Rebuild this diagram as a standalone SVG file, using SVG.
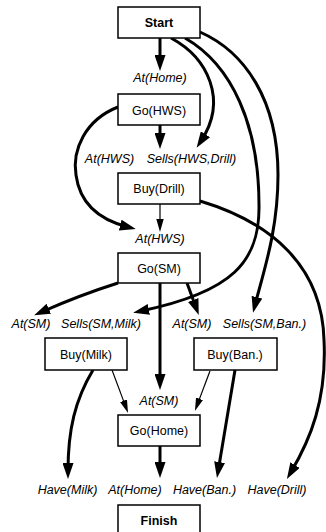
<svg xmlns="http://www.w3.org/2000/svg" width="326" height="532" viewBox="0 0 326 532">
<defs>
<style>
.box{fill:#fff;stroke:#000;stroke-width:1.5}
.t{font-family:"Liberation Sans",Arial,sans-serif;font-size:12.5px;text-anchor:middle;fill:#000}
.b{font-weight:bold}
.i{font-style:italic}
.thick{fill:none;stroke:#000;stroke-width:3;marker-end:url(#ah)}
.thin{fill:none;stroke:#000;stroke-width:1.2;marker-end:url(#ahs)}
</style>
<marker id="ah" markerUnits="userSpaceOnUse" markerWidth="16" markerHeight="11" refX="8" refY="5.5" orient="auto">
<path d="M0,0 L16,5.5 L0,11 Z" fill="#000"/>
</marker>
<marker id="ahs" markerUnits="userSpaceOnUse" markerWidth="13" markerHeight="8" refX="6" refY="4" orient="auto">
<path d="M0,0.3 L13,4 L0,7.7 Z" fill="#000"/>
</marker>
</defs>
<g id="connectors">
<path class="thick" d="M160,38 L160,63"/>
<path class="thick" d="M160,125 L160,141"/>
<path class="thin" d="M160,204 L160,225"/>
<path class="thick" d="M171,38 C208,58 228,100 201,141"/>
<path class="thick" d="M185,38 C232,65 259,125 259,205 C260,262 232,292 141,311"/>
<path class="thick" d="M200,32 C245,52 278,100 278,175 C278,230 264,270 255,305"/>
<path class="thick" d="M118,107 C85,120 72,150 76,175 C80,205 100,220 128,227"/>
<path class="thick" d="M200,201 C270,222 322,265 324,340 C327,400 310,440 291,472"/>
<path class="thick" d="M118,283 Q80,295 41.5,312"/>
<path class="thick" d="M187,283 L196,307.5"/>
<path class="thick" d="M160,283 L160,382"/>
<path class="thick" d="M93,370 C75,400 68,430 68,471"/>
<path class="thin" d="M112,370 L125.6,406.4"/>
<path class="thin" d="M210,371 L197.4,404.4"/>
<path class="thick" d="M235,370 L218.3,470"/>
<path class="thick" d="M160,446 L160,470"/>
</g>
<g id="start"><rect class="box" x="118" y="7" width="82" height="31"/><text class="t b" x="159" y="27">Start</text></g>
<g id="goHWS"><rect class="box" x="118" y="94" width="82" height="31"/><text class="t" x="159" y="115">Go(HWS)</text></g>
<g id="buyDrill"><rect class="box" x="118" y="173" width="82" height="31"/><text class="t" x="159" y="193">Buy(Drill)</text></g>
<g id="goSM"><rect class="box" x="118" y="253" width="82" height="30"/><text class="t" x="159" y="273">Go(SM)</text></g>
<g id="buyMilk"><rect class="box" x="45" y="338" width="82" height="32"/><text class="t" x="86" y="359">Buy(Milk)</text></g>
<g id="buyBan"><rect class="box" x="194" y="338" width="83" height="32"/><text class="t" x="235" y="359">Buy(Ban.)</text></g>
<g id="goHome"><rect class="box" x="118" y="415" width="82" height="31"/><text class="t" x="159" y="435">Go(Home)</text></g>
<g id="finish"><rect class="box" x="118" y="505" width="82" height="31"/><text class="t b" x="159" y="525">Finish</text></g>
<g id="labels">
<text class="t i" x="160" y="82">At(Home)</text>
<text class="t i" x="109.5" y="163">At(HWS)</text>
<text class="t i" x="191.5" y="163">Sells(HWS,Drill)</text>
<text class="t i" x="160" y="243">At(HWS)</text>
<text class="t i" x="31" y="328">At(SM)</text>
<text class="t i" x="101" y="328">Sells(SM,Milk)</text>
<text class="t i" x="192" y="328">At(SM)</text>
<text class="t i" x="264.5" y="328">Sells(SM,Ban.)</text>
<text class="t i" x="159" y="405">At(SM)</text>
<text class="t i" x="67.5" y="494">Have(Milk)</text>
<text class="t i" x="135" y="494">At(Home)</text>
<text class="t i" x="204.5" y="494">Have(Ban.)</text>
<text class="t i" x="277" y="494">Have(Drill)</text>
</g>
</svg>
